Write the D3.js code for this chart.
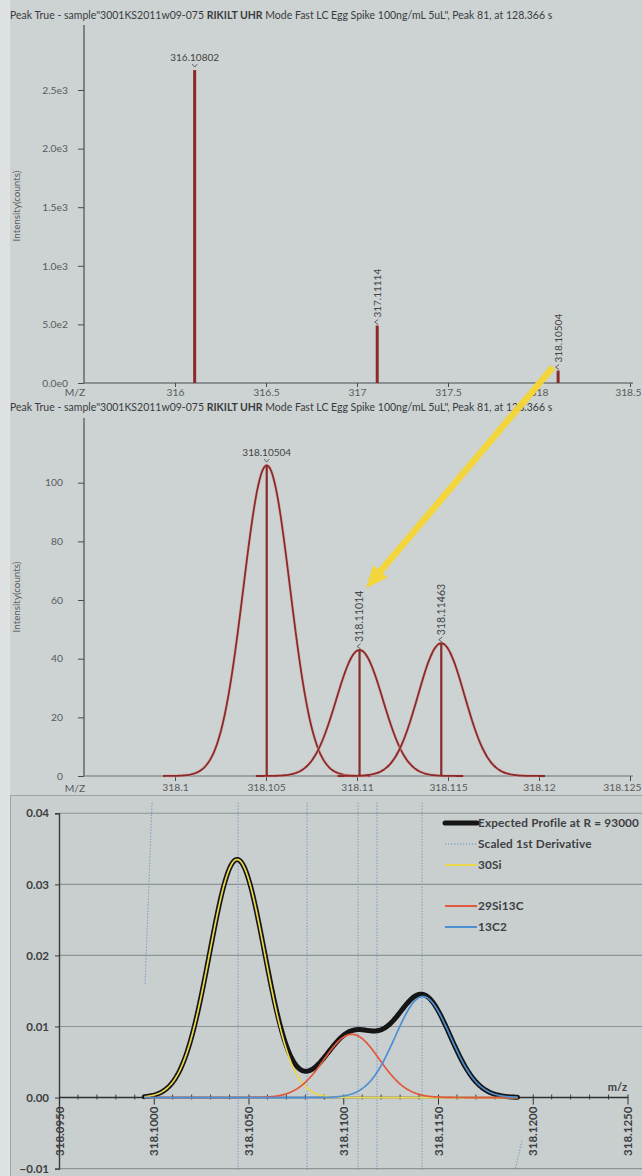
<!DOCTYPE html>
<html>
<head>
<meta charset="utf-8">
<script src="https://cdn.jsdelivr.net/npm/d3@7"></script>
<style>
  html, body { margin: 0; padding: 0; background: #dfe2e2; }
  svg { display: block; }
  text { font-family: Lato, "DejaVu Sans", sans-serif; }
</style>
</head>
<body>
<svg id="chart" width="642" height="1176"></svg>
<script>
// ---------------- DATA ----------------
const titleText = ["Peak True - sample\"3001KS2011w09-075 ", "RIKILT UHR", " Mode Fast LC Egg Spike 100ng/mL 5uL\", Peak 81, at 128.366 s"];

// Top panel: centroid spectrum
const topPeakMz = [316.10802, 317.11114, 318.10504];
const topPeakIntensity = [2670, 490, 106];
const topPeakLabels = ["316.10802", "317.11114", "318.10504"];
const topYTicks = [0, 500, 1000, 1500, 2000, 2500];
const topXTicks = [316, 316.5, 317, 317.5, 318, 318.5];

// Middle panel: profile peaks
const midPeakMz = [318.10504, 318.11014, 318.11463];
const midPeakIntensity = [106, 43, 45.3];
const midPeakSigma = [0.00128, 0.00128, 0.00128];
const midPeakLabels = ["318.10504", "318.11014", "318.11463"];
const midYTicks = [0, 20, 40, 60, 80, 100];
const midXTicks = [318.1, 318.105, 318.11, 318.115, 318.12, 318.125];

// Bottom panel: expected isotope profile
const isoNames = ["30Si", "29Si13C", "13C2"];
const isoMz = [318.1044, 318.11045, 318.1142];
const isoHeight = [0.0335, 0.0089, 0.0142];
const resolvingPower = 93000;
const profileRange = [318.0995, 318.1192];
const botYTicks = [-0.01, 0, 0.01, 0.02, 0.03, 0.04];
const botXTicks = [318.095, 318.1, 318.105, 318.11, 318.115, 318.12, 318.125];
// scaled 1st derivative: visible near-vertical pieces [mz1, v1, mz2, v2]
const derivSegments = [
  [318.09991, 0.0415, 318.09954, 0.016],
  [318.10445, 0.0415, 318.10445, -0.0102],
  [318.10809, 0.0415, 318.10809, -0.0102],
  [318.11078, 0.0415, 318.11078, -0.0102],
  [318.11178, 0.0415, 318.11178, -0.0102],
  [318.11416, 0.0415, 318.11416, -0.0102],
  [318.11943, -0.0061, 318.11906, -0.0102]
];
const legendItems = ["Expected Profile at R = 93000", "Scaled 1st Derivative", "30Si", "29Si13C", "13C2"];

// ---------------- DRAW ----------------
const svg = d3.select("#chart");
const W = 642;
const peakRed = "#8a2b2b";
const axisCol = "#4a4d50";
const tickTextCol = "#585b5d";
const tickFont = 10.3;

// panel backgrounds
svg.append("rect").attr("x", 10).attr("y", 0).attr("width", W - 10).attr("height", 795).attr("fill", "#cdd2d3");
svg.append("rect").attr("x", 10).attr("y", 795).attr("width", W - 10).attr("height", 381).attr("fill", "#c9cecf");
svg.append("line").attr("x1", 10).attr("x2", W).attr("y1", 795.5).attr("y2", 795.5).attr("stroke", "#9ea3a4");
svg.append("line").attr("x1", 10.5).attr("x2", 10.5).attr("y1", 795).attr("y2", 1176).attr("stroke", "#9ea3a4");

function title(y) {
  const t = svg.append("text").attr("x", 10).attr("y", y).attr("font-size", 10.5).attr("fill", "#3a3c3e");
  titleText.forEach((s, i) => t.append("tspan").text(s).attr("font-weight", i === 1 ? 700 : 400));
}

function chevronDown(g, x, y) {
  g.append("path").attr("d", `M${x - 2.5},${y - 3} L${x},${y} L${x + 2.5},${y - 3}`)
    .attr("fill", "none").attr("stroke", "#555").attr("stroke-width", 0.9);
}
function chevronLeft(g, x, y) {
  g.append("path").attr("d", `M${x + 2.5},${y - 5} L${x - 1},${y - 2.5} L${x + 2.5},${y}`)
    .attr("fill", "none").attr("stroke", "#555").attr("stroke-width", 0.9);
}

function styleAxis(g) {
  g.select(".domain").attr("stroke", axisCol).attr("stroke-width", 1.2);
  g.selectAll(".tick line").attr("stroke", axisCol);
  g.selectAll(".tick text").attr("fill", tickTextCol).attr("font-size", tickFont).attr("font-family", "Lato, sans-serif");
}
// keep the last x tick label inside the picture
function fitLastLabel(g, scale, ticks) {
  const last = ticks[ticks.length - 1];
  g.selectAll(".tick").filter(d => d === last).select("text")
    .attr("text-anchor", "end").attr("x", W - 1 - scale(last));
}

// ---------- TOP PANEL ----------
title(19);
const xT = d3.scaleLinear().domain([315.5, 318.5]).range([84, 630]);
const yT = d3.scaleLinear().domain([0, 2500]).range([383, 90]);
const gT = svg.append("g");

gT.append("line").attr("x1", 84).attr("x2", 84).attr("y1", 25).attr("y2", 383).attr("stroke", axisCol).attr("stroke-width", 1.2);
const yAxT = gT.append("g").attr("transform", "translate(84,0)")
  .call(d3.axisLeft(yT).tickValues(topYTicks).tickSize(6).tickPadding(10)
    .tickFormat(v => v === 0 ? "0.0e0" : v.toExponential(1).replace("+", "")));
styleAxis(yAxT);
yAxT.select(".domain").remove();
const xAxT = gT.append("g").attr("transform", "translate(0,383)")
  .call(d3.axisBottom(xT).tickValues(topXTicks).tickSize(4).tickPadding(2).tickFormat(d3.format("")));
styleAxis(xAxT);
fitLastLabel(xAxT, xT, topXTicks);
xAxT.select(".domain").attr("d", "M84,0H633");
gT.append("text").attr("x", 75).attr("y", 396).attr("text-anchor", "middle").attr("font-size", tickFont).attr("fill", tickTextCol).text("M/Z");
gT.append("text").attr("transform", "translate(20,206) rotate(-90)").attr("text-anchor", "middle")
  .attr("font-size", 9.8).attr("fill", tickTextCol).text("Intensity(counts)");

topPeakMz.forEach((m, i) => {
  gT.append("rect").attr("x", xT(m) - 1.5).attr("width", 3)
    .attr("y", yT(topPeakIntensity[i])).attr("height", yT(0) - yT(topPeakIntensity[i])).attr("fill", peakRed);
  const px = xT(m), py = yT(topPeakIntensity[i]);
  if (i === 0) {
    chevronDown(gT, px, py - 3);
    gT.append("text").attr("x", px).attr("y", py - 9).attr("text-anchor", "middle").attr("font-size", 10)
      .attr("fill", "#444").text(topPeakLabels[i]);
  } else {
    chevronLeft(gT, px - 1.5, py - 1);
    gT.append("text").attr("transform", `translate(${px + 3.5},${py - 8}) rotate(-90)`)
      .attr("font-size", 10).attr("fill", "#444").text(topPeakLabels[i]);
  }
});

// ---------- MIDDLE PANEL ----------
title(411);
const xM = d3.scaleLinear().domain([318.095, 318.125]).range([84, 630]);
const yM = d3.scaleLinear().domain([0, 100]).range([776, 482.7]);
const gM = svg.append("g");
gM.append("line").attr("x1", 84).attr("x2", 84).attr("y1", 418).attr("y2", 776).attr("stroke", axisCol).attr("stroke-width", 1.2);
const yAxM = gM.append("g").attr("transform", "translate(84,0)")
  .call(d3.axisLeft(yM).tickValues(midYTicks).tickSize(6).tickPadding(15));
styleAxis(yAxM);
yAxM.select(".domain").remove();
const xAxM = gM.append("g").attr("transform", "translate(0,776)")
  .call(d3.axisBottom(xM).tickValues(midXTicks).tickSize(5).tickPadding(3).tickFormat(d3.format("")));
styleAxis(xAxM);
fitLastLabel(xAxM, xM, midXTicks);
xAxM.select(".domain").attr("d", "M84,0H633").attr("stroke", "#6d7174");
gM.append("text").attr("x", 75).attr("y", 792).attr("text-anchor", "middle").attr("font-size", tickFont).attr("fill", tickTextCol).text("M/Z");
gM.append("text").attr("transform", "translate(20,597) rotate(-90)").attr("text-anchor", "middle")
  .attr("font-size", 9.8).attr("fill", tickTextCol).text("Intensity(counts)");

const lineM = d3.line().x(d => xM(d[0])).y(d => yM(d[1])).curve(d3.curveBasis);
midPeakMz.forEach((m, i) => {
  const s = midPeakSigma[i], h = midPeakIntensity[i];
  const pts = d3.range(m - 0.0057, m + 0.0057 + 1e-9, 0.0001).map(x => [x, h * Math.exp(-0.5 * ((x - m) / s) ** 2)]);
  gM.append("path").attr("d", lineM(pts)).attr("fill", "none").attr("stroke", "#d9a9a3").attr("stroke-width", 3.2).attr("opacity", 0.6);
  gM.append("path").attr("d", lineM(pts)).attr("fill", "none").attr("stroke", peakRed).attr("stroke-width", 1.8);
});
midPeakMz.forEach((m, i) => {
  const px = xM(m), py = yM(midPeakIntensity[i]);
  gM.append("line").attr("x1", px).attr("x2", px).attr("y1", yM(0)).attr("y2", py).attr("stroke", peakRed).attr("stroke-width", 2.2);
  if (i === 0) {
    chevronDown(gM, px, py - 3);
    gM.append("text").attr("x", px).attr("y", py - 9).attr("text-anchor", "middle").attr("font-size", 10)
      .attr("fill", "#444").text(midPeakLabels[i]);
  } else {
    chevronLeft(gM, px - 1.5, py - 1);
    gM.append("text").attr("transform", `translate(${px + 3.5},${py - 8}) rotate(-90)`)
      .attr("font-size", 10.5).attr("fill", "#444").text(midPeakLabels[i]);
  }
});

// ---------- BOTTOM PANEL ----------
const xB = d3.scaleLinear().domain([318.095, 318.125]).range([59, 627.5]);
const yB = d3.scaleLinear().domain([-0.01, 0.04]).range([1168.6, 813.3]);
const gB = svg.append("g");

// gridlines
gB.selectAll("line.grid").data(botYTicks.filter(v => v !== 0)).join("line")
  .attr("x1", 59).attr("x2", W).attr("y1", d => yB(d)).attr("y2", d => yB(d))
  .attr("stroke", "#8e9395").attr("stroke-width", 1.1);

// y axis
const yAxB = gB.append("g").attr("transform", "translate(59,0)")
  .call(d3.axisLeft(yB).tickValues(botYTicks).tickSize(4).tickPadding(6).tickFormat(d3.format(".2f")));
yAxB.select(".domain").attr("stroke", "#3a3c3e").attr("stroke-width", 1.4);
yAxB.selectAll(".tick line").attr("stroke", "#3a3c3e");
yAxB.selectAll(".tick text").attr("fill", "#3d4042").attr("font-size", 11.5).attr("font-weight", 700).attr("font-family", "Lato, sans-serif");

// scaled 1st derivative
const derivCol = "#6f8fc4";
gB.selectAll("line.deriv").data(derivSegments).join("line")
  .attr("x1", d => xB(d[0])).attr("y1", d => yB(d[1])).attr("x2", d => xB(d[2])).attr("y2", d => yB(d[3]))
  .attr("stroke", derivCol).attr("stroke-width", 1).attr("stroke-dasharray", "1.2,1.8");

// x axis at 0
const y0 = yB(0);
const xAxB = gB.append("g").attr("transform", `translate(0,${y0})`)
  .call(d3.axisBottom(xB).tickValues(botXTicks).tickSize(7).tickPadding(6).tickFormat(d3.format(".4f")));
xAxB.select(".domain").attr("d", "M59,0H628").attr("stroke", "#2e3032").attr("stroke-width", 1.4);
xAxB.selectAll(".tick line").attr("stroke", "#2e3032").attr("y1", -3);
xAxB.selectAll(".tick text").attr("fill", "#3d4042").attr("font-size", 11.5).attr("font-weight", 700)
  .attr("font-family", "Lato, sans-serif")
  .attr("transform", "rotate(-90)").attr("text-anchor", "end").attr("dy", "0.35em").attr("x", -9).attr("y", 0);
const minorTicks = d3.range(318.095, 318.1251, 0.001).filter(v => !botXTicks.some(t => Math.abs(t - v) < 1e-7));
gB.selectAll("line.minor").data(minorTicks).join("line")
  .attr("x1", d => xB(d)).attr("x2", d => xB(d)).attr("y1", y0 - 3).attr("y2", y0 + 2)
  .attr("stroke", "#2e3032").attr("stroke-width", 0.9);
gB.append("text").attr("x", 627).attr("y", y0 - 7).attr("text-anchor", "end").attr("font-size", 11)
  .attr("font-weight", 700).attr("fill", "#3d4042").text("m/z");

// curves
const sigmaB = isoMz.map(m => m / resolvingPower / 2.3548);
const grid = d3.range(profileRange[0], profileRange[1] + 1e-9, 0.00005);
const comp = (i, x) => isoHeight[i] * Math.exp(-0.5 * ((x - isoMz[i]) / sigmaB[i]) ** 2);
const lineB = d3.line().x(d => xB(d[0])).y(d => yB(d[1]));
const total = grid.map(x => [x, d3.sum(isoMz, (_, i) => comp(i, x))]);
gB.append("path").attr("d", lineB(total)).attr("fill", "none").attr("stroke", "#151515")
  .attr("stroke-width", 5).attr("stroke-linecap", "round").attr("stroke-linejoin", "round");
const isoColors = ["#e9d84e", "#e2583b", "#4d8fd3"];
[0, 1, 2].forEach(i => {
  const pts = grid.map(x => [x, comp(i, x)]);
  gB.append("path").attr("d", lineB(pts)).attr("fill", "none").attr("stroke", isoColors[i]).attr("stroke-width", 1.7);
});

// legend
const legY = [823, 844, 865, 906, 927];
const legX1 = 445, legX2 = 477;
legendItems.forEach((name, i) => {
  const y = legY[i];
  const ln = gB.append("line").attr("x1", legX1).attr("x2", legX2).attr("y1", y).attr("y2", y);
  if (i === 0) ln.attr("stroke", "#151515").attr("stroke-width", 5).attr("stroke-linecap", "round");
  else if (i === 1) ln.attr("stroke", derivCol).attr("stroke-width", 1).attr("stroke-dasharray", "1.2,1.8");
  else ln.attr("stroke", isoColors[i - 2]).attr("stroke-width", 2);
  gB.append("text").attr("x", legX2 + 1).attr("y", y).attr("dy", "0.35em").attr("font-size", 11.8)
    .attr("letter-spacing", 0.15).attr("font-weight", 700).attr("fill", "#3d4042").text(name);
});

// ---------- YELLOW ARROW ANNOTATION ----------
const arrowStart = [xT(318.077), yT(136)];
const arrowEnd = [xM(318.1105), yM(64)];
const dx = arrowEnd[0] - arrowStart[0], dy = arrowEnd[1] - arrowStart[1];
const L = Math.hypot(dx, dy), ux = dx / L, uy = dy / L, nx = -uy, ny = ux;
const headL = 22, headW = 9.5, shaftW = 3.3;
const bx = arrowEnd[0] - ux * headL, by = arrowEnd[1] - uy * headL;
const arrowPts = [
  [arrowStart[0] + nx * shaftW, arrowStart[1] + ny * shaftW],
  [bx + nx * shaftW, by + ny * shaftW],
  [bx + nx * headW, by + ny * headW],
  arrowEnd,
  [bx - nx * headW, by - ny * headW],
  [bx - nx * shaftW, by - ny * shaftW],
  [arrowStart[0] - nx * shaftW, arrowStart[1] - ny * shaftW]
];
svg.append("polygon").attr("points", arrowPts.map(p => p.join(",")).join(" "))
  .attr("fill", "#f4d534").attr("opacity", 0.95);
</script>
</body>
</html>
